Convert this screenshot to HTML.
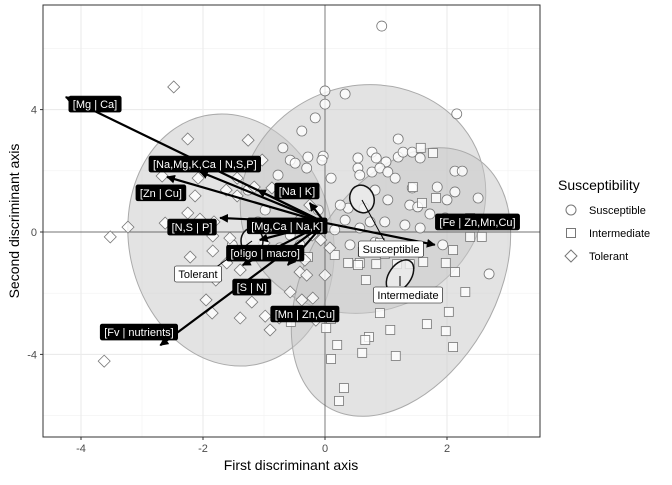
<!DOCTYPE html>
<html><head><meta charset="utf-8"><style>
body{margin:0;background:#fff;width:672px;height:480px;overflow:hidden;font-family:"Liberation Sans",sans-serif}
svg text{font-family:"Liberation Sans",sans-serif}
</style></head><body>
<svg id="c" width="672" height="480"></svg>
<script>
const susX=[0.93,0.33,0,0,-0.16,1.2,0.77,-0.38,-0.69,-0.28,-0.03,-0.77,-0.57,-0.49,-0.3,-0.05,0.1,0.54,0.54,0.84,1.0,1.2,1.28,1.43,1.56,0.57,0.77,0.9,1.03,1.15,1.43,2.13,2.25,2.51,1.84,2.13,2.0,1.39,1.52,1.72,1.03,0.82,0.64,0.74,0.38,0.25,0.33,0.57,0.98,1.31,1.56,1.97,1.93,0.41,0.82,1.31,-0.25,-0.11,0.16,-0.41,-0.57,-0.82,-0.74,-0.41,-1.26,-0.98,2.16,2.69,-1.52,-1.1];
const susY=[6.73,4.51,4.61,4.18,3.73,3.04,2.61,3.3,2.75,2.45,2.48,1.86,2.35,2.25,2.09,2.35,1.76,2.42,2.09,2.42,2.29,2.45,2.61,2.61,2.42,1.86,1.96,2.09,1.96,1.76,1.44,1.99,1.99,1.11,1.47,1.31,1.05,0.88,0.82,0.59,1.05,1.37,0.78,0.33,0.78,0.88,0.39,0.13,0.33,0.23,0.13,0.46,-0.42,-0.42,-0.33,-0.59,1.31,0.72,0.07,0.39,-0.1,0.16,-0.52,-0.42,1.37,0.72,3.86,-1.37,-0.42,0.33];
const intX=[1.57,1.77,1.44,1.82,1.59,2.38,2.57,2.38,2.1,1.98,2.13,2.3,2.03,1.84,1.61,1.39,1.18,0.98,0.84,0.57,0.38,0.62,0.9,0.67,0.9,0.72,0.66,1.07,1.16,1.67,1.98,2.1,0.61,0.2,0.31,0.23,0.1,0.02,-0.56,-0.39,0.1,-0.28,0.54,0.16];
const intY=[2.75,2.58,1.47,1.11,0.95,0.46,-0.16,-0.16,-0.59,-1.01,-1.31,-1.96,-2.61,-2.12,-0.98,-1.05,-1.05,-0.72,-1.05,-1.01,-1.01,-0.65,-0.36,-1.57,-2.65,-3.43,-3.53,-3.2,-4.05,-3.01,-3.24,-3.76,-3.95,-3.69,-5.1,-5.52,-2.84,-3.14,-2.94,-2.78,-4.15,-0.82,-1.08,-0.75];
const tolX=[-2.48,-2.25,-1.26,-2.67,-2.08,-1.44,-1.44,-1.62,-2.13,-2.25,-3.23,-3.52,-2.05,-1.82,-1.84,-2.21,-1.84,-1.61,-1.39,-1.26,-1.79,-1.95,-1.85,-1.39,-1.2,-1.03,-0.98,-0.9,-0.75,-0.57,-0.41,-0.33,-0.21,-0.07,-0.3,-0.38,-0.2,-0.15,-3.62,-0.87,-1.16,-1.56,-2.46,-2.62,-1.03,-0.25,-1.0,-0.66,0.08,0];
const tolY=[4.74,3.04,3.0,1.83,1.76,1.76,1.18,1.37,1.18,0.62,0.16,-0.16,0.42,0.33,-0.13,-0.82,-0.62,-1.01,-1.24,-0.75,-1.57,-2.22,-2.65,-2.81,-2.29,-1.73,-2.75,-3.2,-2.81,-1.96,-1.31,-0.92,-0.1,-0.26,-1.41,-2.22,-2.16,-2.88,-4.22,1.44,1.47,-0.2,0.16,0.29,2.35,0.88,-0.36,0.13,-0.52,-1.41];
const arrowLabels=["[Mg | Ca]","[Na,Mg,K,Ca | N,S,P]","[Zn | Cu]","[Na | K]","[N,S | P]","[Mg,Ca | Na,K]","[o!igo | macro]","[S | N]","[Mn | Zn,Cu]","[Fv | nutrients]","[Fe | Zn,Mn,Cu]"];
const arrowX=[-4.25,-2.05,-2.59,-1.1,-1.72,-0.25,-1.07,-1.35,-0.61,-2.7,1.8];
const arrowY=[4.41,1.97,1.8,1.37,0.46,0.95,-0.26,-1.08,-1.08,-3.7,-0.42];
const labelX=[-3.77,-1.97,-2.69,-0.46,-2.18,-0.62,-0.98,-1.2,-0.33,-3.05,2.5];
const labelY=[4.18,2.22,1.28,1.34,0.16,0.2,-0.69,-1.8,-2.68,-3.27,0.33];

const X=v=>325+61*v, Y=v=>232-30.6*v;
const svg=document.getElementById('c');const NS='http://www.w3.org/2000/svg';
function mk(t,a,p){const e=document.createElementNS(NS,t);for(const k in a)e.setAttribute(k,a[k]);(p||svg).appendChild(e);return e;}
mk('rect',{x:43,y:5,width:497,height:432,fill:'#fff',stroke:'none'});
[-3,-1,1,3].forEach(v=>{const l=mk('line',{x1:X(v),x2:X(v),y1:5,y2:437,stroke:'#f2f2f2','stroke-width':0.6});});
[-6,-2,2,6].forEach(v=>{const l=mk('line',{y1:Y(v),y2:Y(v),x1:43,x2:540,stroke:'#f2f2f2','stroke-width':0.6});});
[-4,-2,2].forEach(v=>{const l=mk('line',{x1:X(v),x2:X(v),y1:5,y2:437,stroke:'#ebebeb','stroke-width':1.1});});
[-4,4].forEach(v=>{const l=mk('line',{y1:Y(v),y2:Y(v),x1:43,x2:540,stroke:'#ebebeb','stroke-width':1.1});});
function ell(name,cx,cy,rx,ry,rot,fill,op,stroke,sw){const e=mk('ellipse',{cx:cx,cy:cy,rx:rx,ry:ry,transform:`rotate(${rot} ${cx} ${cy})`,fill:fill,'fill-opacity':op,stroke:stroke,'stroke-width':sw});}
ell('tolerant-ellipse',231,240,102,127,-12,'#c8c8c8',0.5,'#aaa',1);
ell('susceptible-ellipse',363,199,124,113,-20,'#c8c8c8',0.5,'#aaa',1);
ell('intermediate-ellipse',401,282,95,145,30,'#c8c8c8',0.5,'#aaa',1);
let z=mk('line',{x1:X(0),x2:X(0),y1:5,y2:437,stroke:'#444','stroke-width':0.7});
z=mk('line',{y1:Y(0),y2:Y(0),x1:43,x2:540,stroke:'#444','stroke-width':0.7});
const PF='#fff',PS='#777';
susX.forEach((v,i)=>{const c=mk('circle',{cx:X(v),cy:Y(susY[i]),r:5,fill:PF,'fill-opacity':0.8,stroke:PS,'stroke-width':0.8});});
intX.forEach((v,i)=>{const c=mk('rect',{x:X(v)-4.5,y:Y(intY[i])-4.5,width:9,height:9,fill:PF,'fill-opacity':0.8,stroke:PS,'stroke-width':0.8});});
tolX.forEach((v,i)=>{const x=X(v),y=Y(tolY[i]);const c=mk('polygon',{points:`${x},${y-6} ${x+6},${y} ${x},${y+6} ${x-6},${y}`,fill:PF,'fill-opacity':0.8,stroke:PS,'stroke-width':0.8});});
ell('susceptible-mean-ellipse',362,199,12,14,-20,'#eee',0.8,'#111',1.5);
ell('intermediate-mean-ellipse',400,276,11,18,35,'#eee',0.8,'#111',1.5);
ell('tolerant-mean-ellipse',252,241,11,13,0,'#eee',0.8,'#111',1.5);
const defs=mk('defs',{});const m=mk('marker',{id:'ah',viewBox:'0 0 10 10',refX:9,refY:5,markerWidth:4,markerHeight:4,orient:'auto-start-reverse'},defs);mk('path',{d:'M0,0 L10,5 L0,10 z',fill:'#000'},m);
arrowX.forEach((v,i)=>{const a=mk('line',{x1:X(0),y1:Y(0.3),x2:X(v),y2:Y(arrowY[i]),stroke:'#000','stroke-width':2.2,'marker-end':'url(#ah)'});});
[[215,268,252,241],[384,240,362,200],[400,286,400,276]].forEach(s=>{const l=mk('line',{x1:s[0],y1:s[1],x2:s[2],y2:s[3],stroke:'#000','stroke-width':1});});
function lab(txt,cx,cy,dark,name){const g=mk('g',{});const t=mk('text',{x:cx,y:cy+4,'text-anchor':'middle','font-size':11,fill:dark?'#fff':'#000'},g);t.textContent=txt;const w=t.getComputedTextLength()+8;const r=mk('rect',{x:cx-w/2,y:cy-8,width:w,height:16,rx:2,fill:dark?'#000':'#fff',stroke:'#000','stroke-width':0.6});g.insertBefore(r,t);}
arrowLabels.forEach((s,i)=>lab(s,X(labelX[i]),Y(labelY[i]),true,'arrow-label'));
lab('Tolerant',198,274,false,'tolerant-group-label');
lab('Susceptible',391,249,false,'susceptible-group-label');
lab('Intermediate',408,295,false,'intermediate-group-label');
let b=mk('rect',{x:43,y:5,width:497,height:432,fill:'none',stroke:'#333','stroke-width':1});
[-4,-2,0,2].forEach(v=>{mk('line',{x1:X(v),x2:X(v),y1:437,y2:440,stroke:'#333'});const t=mk('text',{x:X(v),y:452,'text-anchor':'middle','font-size':11,fill:'#4d4d4d'});t.textContent=v;});
[-4,0,4].forEach(v=>{mk('line',{x1:40,x2:43,y1:Y(v),y2:Y(v),stroke:'#333'});const t=mk('text',{x:37,y:Y(v)+4,'text-anchor':'end','font-size':11,fill:'#4d4d4d'});t.textContent=v;});
let t=mk('text',{x:291,y:470,'text-anchor':'middle','font-size':14,fill:'#000'});t.textContent='First discriminant axis';
t=mk('text',{x:19,y:221,'text-anchor':'middle','font-size':14,fill:'#000',transform:'rotate(-90 19 221)'});t.textContent='Second discriminant axis';
t=mk('text',{x:558,y:190,'font-size':14,fill:'#000'});t.textContent='Susceptibility';
const lg=[['Susceptible',210],['Intermediate',233],['Tolerant',256]];
lg.forEach((e,i)=>{const g=mk('g',{});const x=571,y=e[1];
if(i==0)mk('circle',{cx:x,cy:y,r:5,fill:'#fff',stroke:PS},g);else if(i==1)mk('rect',{x:x-4.5,y:y-4.5,width:9,height:9,fill:'#fff',stroke:PS},g);else mk('polygon',{points:`${x},${y-6} ${x+6},${y} ${x},${y+6} ${x-6},${y}`,fill:'#fff',stroke:PS},g);
const tt=mk('text',{x:589,y:y+4,'font-size':11,fill:'#000'},g);tt.textContent=e[0];});
</script>
</body></html>
